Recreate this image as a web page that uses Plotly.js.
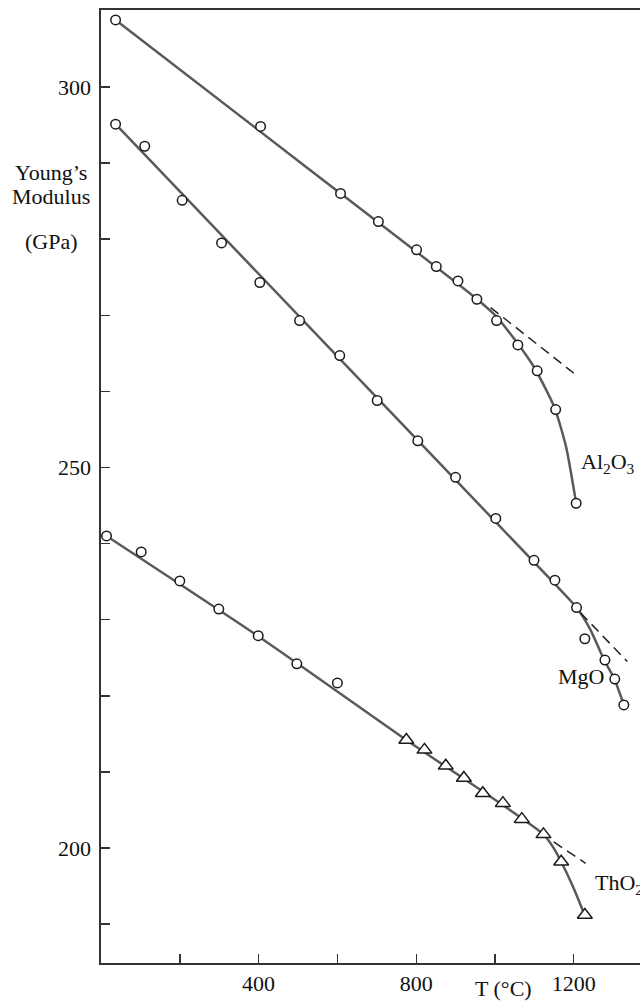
<!DOCTYPE html>
<html>
<head>
<meta charset="utf-8">
<script src="https://cdn.plot.ly/plotly-3.0.1.min.js"></script>
<style>html,body{margin:0;padding:0;background:#fff;overflow:hidden;}#chart{width:640px;height:1001px;}</style>
</head>
<body>
<div id="chart"></div>
<script>
// ---- data ----
// Al2O3 measured points (T in °C, E in GPa)
const al2o3T = [37, 405, 608, 704, 801, 851, 906, 954, 1004, 1058, 1107, 1154, 1206];
const al2o3E = [308.8, 294.8, 286.0, 282.3, 278.6, 276.4, 274.5, 272.1, 269.3, 266.1, 262.7, 257.6, 245.3];
// Al2O3 fitted curve and linear extrapolation
const al2o3FitT = [37, 500, 950, 1000, 1050, 1100, 1150, 1180, 1206];
const al2o3FitE = [308.8, 290.3, 272.3, 270.0, 266.8, 263.1, 258.0, 252.8, 245.3];
const al2o3DashT = [989, 1212];
const al2o3DashE = [271.0, 261.9];

// MgO
const mgoT = [37, 111, 206, 306, 403, 504, 606, 701, 804, 900, 1002, 1099, 1152, 1207, 1228, 1279, 1304, 1327];
const mgoE = [295.1, 292.2, 285.1, 279.5, 274.3, 269.3, 264.7, 258.8, 253.5, 248.7, 243.3, 237.8, 235.2, 231.6, 227.5, 224.7, 222.2, 218.8];
const mgoFitT = [37, 600, 1150, 1207, 1242, 1277, 1303, 1327];
const mgoFitE = [295.1, 264.6, 234.8, 231.6, 228.7, 224.7, 222.2, 218.8];
const mgoDashT = [1217, 1336];
const mgoDashE = [230.9, 224.5];

// ThO2: circles and triangles
const tho2CircT = [14, 102, 200, 299, 399, 497, 600];
const tho2CircE = [241.0, 238.9, 235.1, 231.4, 227.9, 224.2, 221.7];
const tho2TriT = [775, 821, 875, 921, 969, 1020, 1068, 1123, 1168, 1228];
const tho2TriE = [214.2, 212.9, 210.8, 209.2, 207.2, 205.9, 203.8, 201.8, 198.2, 191.2];
const tho2FitT = [14, 400, 775, 1123, 1149, 1168, 1200, 1226];
const tho2FitE = [241.0, 227.8, 214.2, 201.8, 200.0, 198.2, 194.7, 191.4];
const tho2DashT = [1149, 1230];
const tho2DashE = [200.8, 198.0];

// axis ticks
const xTickVals = [200, 400, 600, 800, 1000, 1200];
const xTickText = ['', '400', '', '800', '', '1200'];
const yTickVals = [190, 200, 210, 220, 230, 240, 250, 260, 270, 280, 290, 300];
const yTickText = ['', '200', '', '', '', '', '250', '', '', '', '', '300'];

// series labels
const seriesLabels = [
  {text: 'Al<sub>2</sub>O<sub>3</sub>', x: 1214, y: 250.6},
  {text: 'MgO', x: 1155, y: 222.5},
  {text: 'ThO<sub>2</sub>', x: 1248, y: 195.3}
];

// ---- styles ----
const FONT = 'Liberation Serif, Times New Roman, serif';
const TXT = '#111';
const lineStyle = {color: '#5a5a5a', width: 2.5, shape: 'spline', smoothing: 0.6};
const dashStyle = {color: '#222', width: 1.5, dash: '10px,6px'};
const circFill = {symbol: 'circle', size: 9.5, color: '#fff', line: {width: 1.5, color: '#1a1a1a'}};
const tri = {symbol: 'triangle-up', size: 13, color: '#fff', line: {width: 1.5, color: '#1a1a1a'}};

function ln(x, y, line) { return {x: x, y: y, type: 'scatter', mode: 'lines', line: line, hoverinfo: 'skip'}; }
function mk(x, y, marker) { return {x: x, y: y, type: 'scatter', mode: 'markers', marker: marker, hoverinfo: 'skip'}; }

const traces = [
  ln(al2o3FitT, al2o3FitE, lineStyle),
  ln(al2o3DashT, al2o3DashE, dashStyle),
  ln(mgoFitT, mgoFitE, lineStyle),
  ln(mgoDashT, mgoDashE, dashStyle),
  ln(tho2FitT, tho2FitE, lineStyle),
  ln(tho2DashT, tho2DashE, dashStyle),
  mk(al2o3T, al2o3E, circFill),
  mk(mgoT, mgoE, circFill),
  mk(tho2CircT, tho2CircE, circFill),
  mk(tho2TriT, tho2TriE, tri)
];

const W = 640, H = 1001, L = 101, T = 10, B = 38;
const pw = W - L, ph = H - T - B;
function px2paperX(px) { return (px - L) / pw; }
function px2paperY(py) { return (H - B - py) / ph; }

const annotations = seriesLabels.map(s => ({
  text: s.text, x: s.x, y: s.y, xref: 'x', yref: 'y', xanchor: 'left', yanchor: 'middle',
  showarrow: false, font: {family: FONT, size: 22, color: TXT}
}));
const yTitleLines = [["Young’s", 172], ['Modulus', 196], ['(GPa)', 242]];
yTitleLines.forEach(l => annotations.push({
  text: l[0], x: px2paperX(51), y: px2paperY(l[1]), xref: 'paper', yref: 'paper',
  xanchor: 'center', yanchor: 'middle', showarrow: false,
  font: {family: FONT, size: 22, color: TXT}
}));
annotations.push({
  text: 'T (°C)', x: px2paperX(503.5), y: px2paperY(988.5), xref: 'paper', yref: 'paper',
  xanchor: 'center', yanchor: 'middle', showarrow: false,
  font: {family: FONT, size: 22, color: TXT}
});

const layout = {
  width: W, height: H,
  margin: {l: L, r: 0, t: T, b: B, pad: 0},
  paper_bgcolor: '#fff', plot_bgcolor: '#fff',
  showlegend: false,
  font: {family: FONT, size: 22, color: TXT},
  xaxis: {
    range: [0, pw / 0.394], showgrid: false, zeroline: false,
    showline: true, linecolor: '#333', linewidth: 1.6, mirror: true,
    ticks: 'inside', ticklen: 9, tickwidth: 1.4, tickcolor: '#333',
    tickmode: 'array', tickvals: xTickVals, ticktext: xTickText,
    tickfont: {family: FONT, size: 22, color: TXT}
  },
  yaxis: {
    range: [184.9, 310.1], showgrid: false, zeroline: false,
    showline: true, linecolor: '#333', linewidth: 1.6,
    ticks: 'inside', ticklen: 9, tickwidth: 1.4, tickcolor: '#333',
    tickmode: 'array', tickvals: yTickVals, ticktext: yTickText,
    ticklabelstandoff: 4,
    tickfont: {family: FONT, size: 22, color: TXT}
  },
  annotations: annotations
};

Plotly.newPlot('chart', traces, layout, {staticPlot: true, displayModeBar: false});
</script>
</body>
</html>
